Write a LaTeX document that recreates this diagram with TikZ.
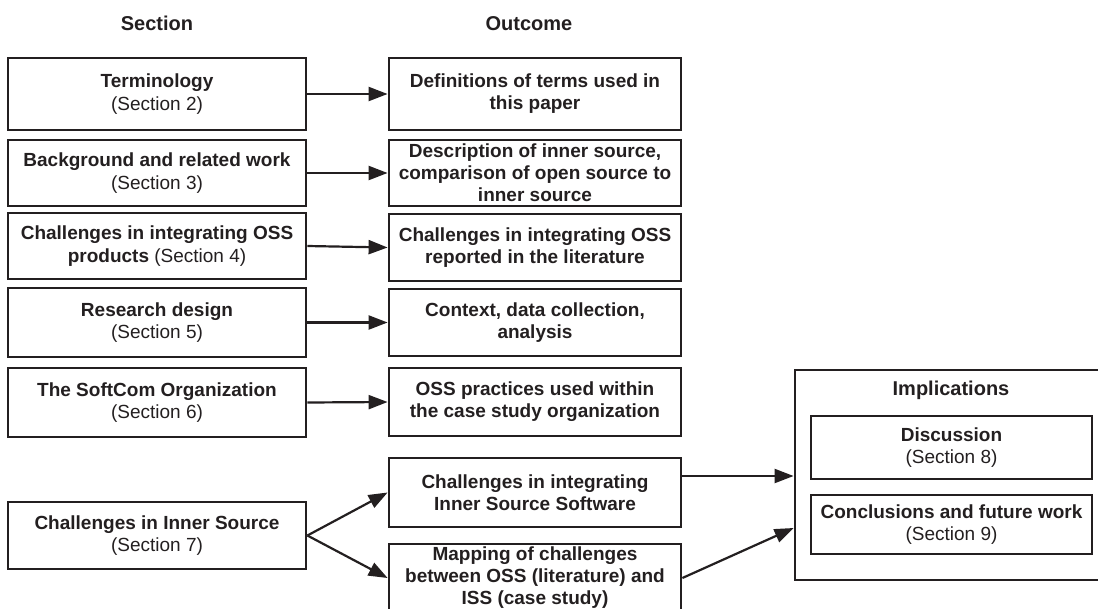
\documentclass[tikz,border=0pt]{standalone}
\usepackage{fontspec}
\setmainfont{Liberation Sans}
\usetikzlibrary{arrows.meta}
\definecolor{ink}{HTML}{231F20}
\begin{document}
\begin{tikzpicture}[x=1pt,y=-1pt,
  box/.style={draw=ink, line width=2.8pt, inner sep=0pt, align=center, text=ink,
    font=\fontsize{19}{22.5}\selectfont},
  lbox/.style={box, minimum width=298pt},
  rbox/.style={box, minimum width=292pt, font=\fontsize{19}{22}\selectfont\bfseries},
  hdr/.style={font=\fontsize{20}{24}\selectfont\bfseries, text=ink, inner sep=0pt, anchor=base},
  arr/.style={draw=ink, line width=2.2pt, -{Triangle[length=19pt,width=14pt]}}]
\useasboundingbox (0,0) rectangle (1098,608);

\node[hdr] (hs) at (157,30) {Section};
\node[hdr] (ho) at (529,30) {Outcome};

\node[lbox, minimum height=72pt] (l1) at (157,94) {\textbf{Terminology}\\(Section 2)};
\node[lbox, minimum height=66pt] (l2) at (157,173) {\textbf{Background and related work}\\(Section 3)};
\node[lbox, minimum height=66pt] (l3) at (157,246) {\textbf{Challenges in integrating OSS}\\\textbf{products} (Section 4)};
\node[lbox, minimum height=69pt] (l4) at (157,322.5) {\textbf{Research design}\\(Section 5)};
\node[lbox, minimum height=69pt] (l5) at (157,402.5) {\textbf{The SoftCom Organization}\\(Section 6)};
\node[lbox, minimum height=67pt] (l6) at (157,535.5) {\textbf{Challenges in Inner Source}\\(Section 7)};

\node[rbox, minimum height=72pt] (r1) at (535,94) {Definitions of terms used in\\this paper};
\node[rbox, minimum height=66pt] (r2) at (535,173) {Description of inner source,\\comparison of open source to\\inner source};
\node[rbox, minimum height=67pt] (r3) at (535,247.5) {Challenges in integrating OSS\\reported in the literature};
\node[rbox, minimum height=67pt] (r4) at (535,322.5) {Context, data collection,\\analysis};
\node[rbox, minimum height=68pt] (r5) at (535,402) {OSS practices used within\\the case study organization};
\node[rbox, minimum height=69pt] (r6) at (535,492.5) {Challenges in integrating\\Inner Source Software};
\node[rbox, minimum height=68pt] (r7) at (535,578) {Mapping of challenges\\between OSS (literature) and\\ISS (case study)};

\node[box, minimum width=315pt, minimum height=210pt] (impl) at (952.5,475) {};
\node[hdr] (ht) at (951,395) {Implications};
\node[box, minimum width=281pt, minimum height=63pt] (d1) at (951.5,447.5) {\textbf{Discussion}\\(Section 8)};
\node[box, minimum width=281pt, minimum height=59pt] (d2) at (951.5,524.5) {\textbf{Conclusions and future work}\\(Section 9)};

\draw[arr] (l1.east) -- (r1.west);
\draw[arr] (l2.east) -- (r2.west);
\draw[arr] (l3.east) -- (r3.west);
\draw[arr] (l4.east) -- (r4.west);
\draw[arr] (l5.east) -- (r5.west);
\draw[arr] (l6.east) -- (r6.west);
\draw[arr] (l6.east) -- (r7.west);
\path ([yshift=16.5pt]r6.east) coordinate (s6);
\draw[arr] (s6) -- (s6 -| impl.west);
\draw[arr] (r7.east) -- ([yshift=-53pt]impl.west);
\end{tikzpicture}
\end{document}
